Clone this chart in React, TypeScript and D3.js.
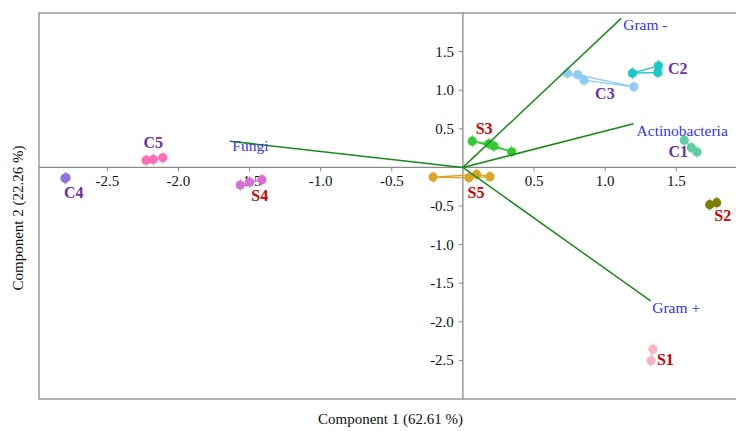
import React from "react";
import * as d3 from "d3";

// ---- data ----
const groupNames = ["C1", "C2", "C3", "C4", "C5", "S1", "S2", "S3", "S4", "S5"];
const groupColors = ["#5fcfa3", "#19c8c8", "#8fcdf5", "#9370db", "#ff6eb4", "#f7b5c2", "#7d7d05", "#34c934", "#d96fd6", "#dba526"];
const groupLabelColors = ["#7030a0", "#7030a0", "#7030a0", "#7030a0", "#7030a0", "#cc0000", "#cc0000", "#cc0000", "#cc0000", "#cc0000"];
const groupScores: [number, number][][] = [
  [[1.556, 0.353], [1.606, 0.255], [1.646, 0.198]],
  [[1.192, 1.22], [1.375, 1.316], [1.371, 1.229]],
  [[0.735, 1.22], [0.808, 1.2], [0.852, 1.129], [1.202, 1.044]],
  [[-2.798, -0.142], [-2.79, -0.135]],
  [[-2.227, 0.094], [-2.176, 0.103], [-2.11, 0.125]],
  [[1.336, -2.354], [1.322, -2.506]],
  [[1.735, -0.483], [1.784, -0.457]],
  [[0.066, 0.34], [0.183, 0.306], [0.218, 0.276], [0.343, 0.203]],
  [[-1.565, -0.229], [-1.5, -0.19], [-1.413, -0.159]],
  [[-0.209, -0.125], [0.042, -0.134], [0.096, -0.091], [0.19, -0.12]],
];
const vectorNames = ["Gram -", "Actinobacteria", "Fungi", "Gram +"];
const vectorLoadings: [number, number][] = [
  [1.113, 1.93],
  [1.2, 0.565],
  [-1.64, 0.34],
  [1.32, -1.73],
];
const xTicks = [-2.5, -2.0, -1.5, -1.0, -0.5, 0.5, 1.0, 1.5];
const yTicks = [1.5, 1.0, 0.5, -0.5, -1.0, -1.5, -2.0, -2.5];
const xTitle = "Component 1 (62.61 %)";
const yTitle = "Component 2 (22.26 %)";

// ---- layout (pixel offsets for labels) ----
const groupLabelOffsets: [number, number][] = [
  [-22.3, 10.8], [18.3, 3], [4.3, 19.8], [-1.4, 20], [-10.7, -10.7],
  [5, 10], [1.2, 17.4], [-16, -12], [0.7, 19], [0.5, 22],
];
const vectorLabelOffsets: [number, number][] = [[2, 12], [3, 12], [2.7, 9.5], [1.6, 12]];

const W = 736, H = 431;
const left = 39, top = 13, bottom = 399, right = 736;
const font = "'Liberation Serif', 'Times New Roman', serif";

export default function App() {
  const x = d3.scaleLinear().domain([-2.98, 1.92]).range([left, right]);
  const y = d3.scaleLinear().domain([-3, 2]).range([bottom, top]);
  const x0 = x(0), y0 = y(0);
  const axisColor = "#8a8a8a";

  return (
    <div style={{ position: "absolute", left: 0, top: 0 }}>
      <svg width={W} height={H} style={{ display: "block", background: "#fff" }} fontFamily={font}>
        <rect x={left} y={top} width={right - left + 20} height={bottom - top} fill="none" stroke={axisColor} strokeWidth={1.3} />
        <line x1={left} x2={W} y1={y0} y2={y0} stroke={axisColor} strokeWidth={1.3} />
        <line x1={x0} x2={x0} y1={top} y2={bottom} stroke={axisColor} strokeWidth={1.3} />
        {xTicks.map((t) => (
          <g key={"x" + t}>
            <line x1={x(t)} x2={x(t)} y1={y0} y2={y0 + 4} stroke={axisColor} strokeWidth={1} />
            <text x={x(t)} y={y0 + 19} textAnchor="middle" fontSize={15} fill="#111">{t.toFixed(1)}</text>
          </g>
        ))}
        {yTicks.map((t) => (
          <g key={"y" + t}>
            <line x1={x0 - 4} x2={x0} y1={y(t)} y2={y(t)} stroke={axisColor} strokeWidth={1} />
            <text x={x0 - 9} y={y(t) + 5} textAnchor="end" fontSize={15} fill="#111">{t.toFixed(1)}</text>
          </g>
        ))}
        {/* groups */}
        {groupScores.map((pts, gi) => {
          const px = pts.map((p) => [x(p[0]), y(p[1])] as [number, number]);
          const hull = px.length >= 3 ? d3.polygonHull(px) : px;
          const cx = d3.mean(px, (p) => p[0])!;
          const cy = d3.mean(px, (p) => p[1])!;
          const line = d3.line()(hull as [number, number][]) + (px.length >= 3 ? "Z" : "");
          const col = groupColors[gi];
          return (
            <g key={groupNames[gi]}>
              <path d={line} fill="none" stroke={col} strokeWidth={1.3} />
              {px.map((p, i) => (
                <g key={i}>
                  <line x1={p[0]} x2={p[0]} y1={p[1] - 6} y2={p[1] + 6} stroke={col} strokeWidth={0.8} />
                  <circle cx={p[0]} cy={p[1]} r={4.6} fill={col} />
                </g>
              ))}
              <text x={cx + groupLabelOffsets[gi][0]} y={cy + groupLabelOffsets[gi][1]} fontSize={16} fontWeight="bold" fill={groupLabelColors[gi]}>
                {groupNames[gi]}
              </text>
            </g>
          );
        })}
        {/* loading vectors */}
        {vectorLoadings.map((v, i) => (
          <g key={vectorNames[i]}>
            <line x1={x0} y1={y0} x2={x(v[0])} y2={y(v[1])} stroke="#1a8a1a" strokeWidth={1.5} />
            <text x={x(v[0]) + vectorLabelOffsets[i][0]} y={y(v[1]) + vectorLabelOffsets[i][1]} fontSize={15.5} fill="#3535f5">
              {vectorNames[i]}
            </text>
          </g>
        ))}
        <text x={(left + 746) / 2 - 2} y={424} textAnchor="middle" fontSize={15} fill="#111">{xTitle}</text>
        <text transform={`translate(23, ${(top + bottom) / 2 + 12}) rotate(-90)`} textAnchor="middle" fontSize={15} fill="#111">{yTitle}</text>
      </svg>
    </div>
  );
}
